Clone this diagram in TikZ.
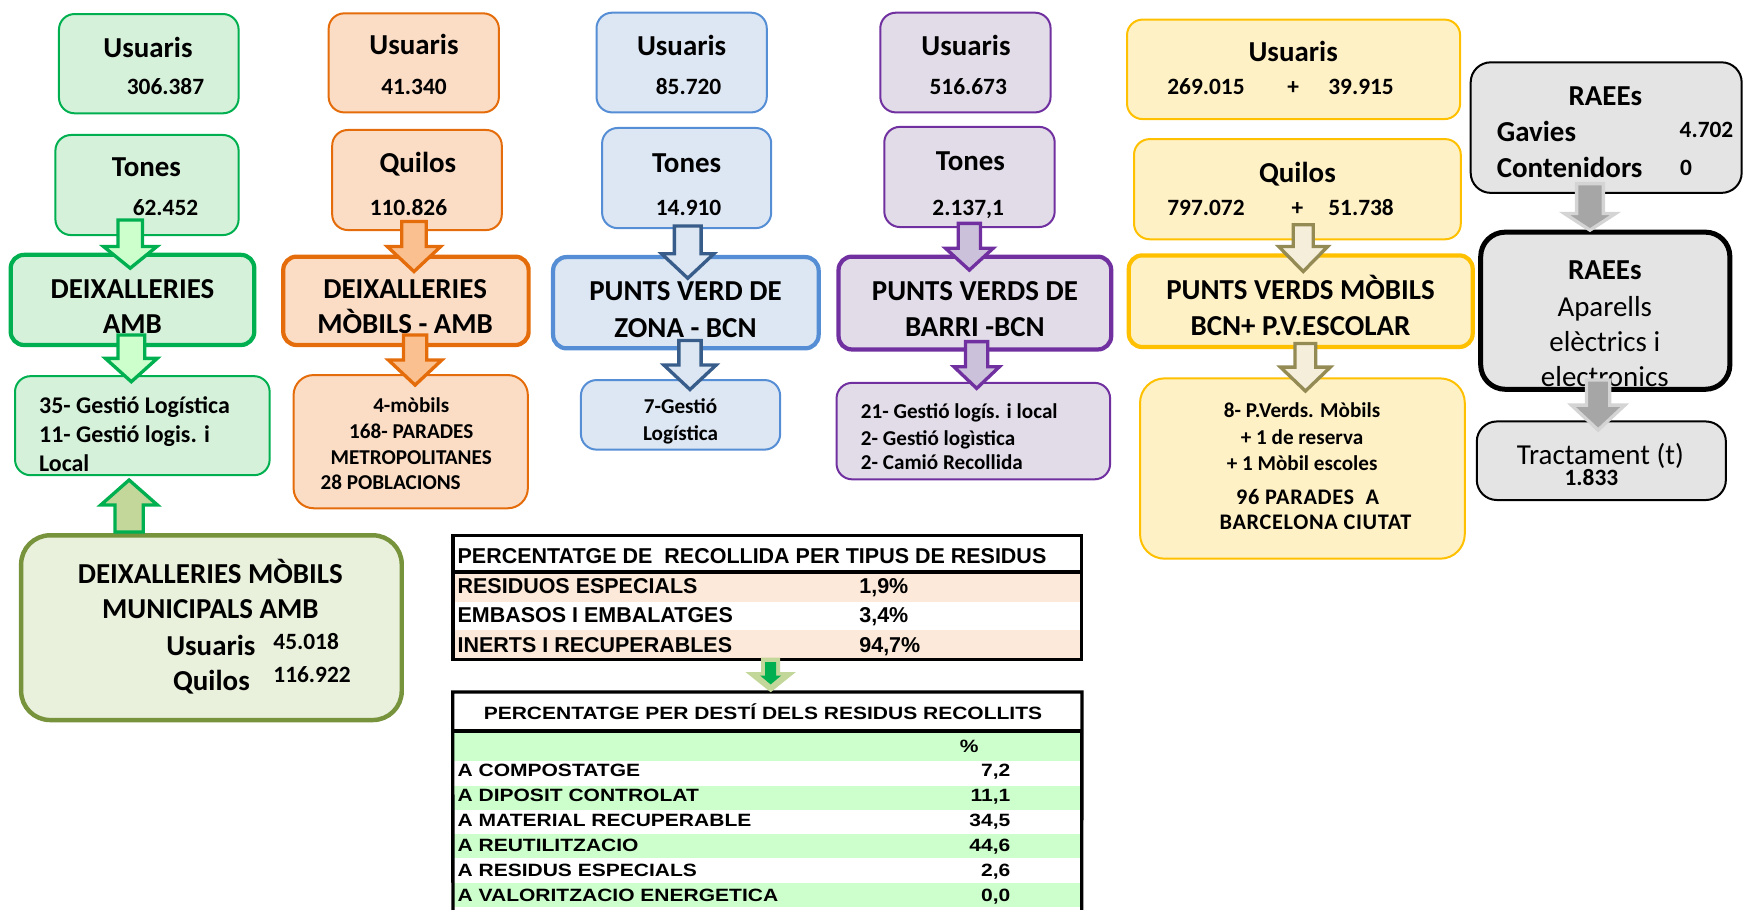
\documentclass[tikz,border=0pt]{standalone}
\usepackage{fontspec}
\setmainfont{Carlito}
\newfontfamily\tabfont{Liberation Sans}
\newfontfamily\tabwide[FakeStretch=1.18]{Liberation Sans}
\usetikzlibrary{calc,fit}
\definecolor{cG}{HTML}{00B050}\definecolor{fG}{HTML}{D6F1DA}\definecolor{aG}{HTML}{CCFFCC}
\definecolor{cO}{HTML}{E46C0A}\definecolor{fO}{HTML}{FBDDC6}\definecolor{aO}{HTML}{FAC090}
\definecolor{cB}{HTML}{558ED5}\definecolor{fB}{HTML}{DDE7F3}\definecolor{dB}{HTML}{385D8A}
\definecolor{cP}{HTML}{7030A0}\definecolor{fP}{HTML}{E2DCE9}\definecolor{aP}{HTML}{CCC1DA}
\definecolor{cY}{HTML}{FFC000}\definecolor{fY}{HTML}{FFF1C6}\definecolor{aY}{HTML}{F4EEDA}\definecolor{dY}{HTML}{948A54}
\definecolor{cL}{HTML}{77933C}\definecolor{fL}{HTML}{E9F0DC}\definecolor{aL}{HTML}{C4D79B}
\definecolor{fK}{HTML}{E4E4E4}\definecolor{aK}{HTML}{A6A6A6}\definecolor{eK}{HTML}{D4D4D4}
\definecolor{peach}{HTML}{FDE9D9}\definecolor{tgreen}{HTML}{CCFFCC}
\newcommand\bx[6]{\node[#2, fit={(#3,#4) (#5,#6)}, inner sep=0pt] (#1) {};}
\newcommand\blk[6]{\draw[#1] let \p1=(#2), \p2=(#3) in
  (\x1-#4pt,\y1) -- (\x1+#4pt,\y1) -- (\x1+#4pt,\y2+#6pt) -- (\x1+#5pt,\y2+#6pt) -- (\x1,\y2)
  -- (\x1-#5pt,\y2+#6pt) -- (\x1-#4pt,\y2+#6pt) -- cycle;}
\newcommand\blkup[6]{\draw[#1] let \p1=(#2), \p2=(#3) in
  (\x1-#4pt,\y1) -- (\x1+#4pt,\y1) -- (\x1+#4pt,\y2-#6pt) -- (\x1+#5pt,\y2-#6pt) -- (\x1,\y2)
  -- (\x1-#5pt,\y2-#6pt) -- (\x1-#4pt,\y2-#6pt) -- cycle;}
\tikzset{
  bxs/.style={draw=#1, rectangle, rounded corners=14pt, line width=1.8pt},
  gbox/.style={bxs=cG, fill=fG}, gboxT/.style={gbox, line width=3.8pt, rounded corners=12pt},
  orbox/.style={bxs=cO, fill=fO}, orboxT/.style={orbox, line width=3.8pt, rounded corners=12pt},
  blbox/.style={bxs=cB, fill=fB}, blboxT/.style={blbox, line width=3.8pt, rounded corners=12pt},
  pubox/.style={bxs=cP, fill=fP}, puboxT/.style={pubox, line width=3.8pt, rounded corners=12pt},
  yebox/.style={bxs=cY, fill=fY}, yeboxT/.style={yebox, line width=3.8pt, rounded corners=12pt},
  grbox/.style={bxs=black, fill=fK, rounded corners=18pt}, grboxT/.style={grbox, line width=4.5pt, rounded corners=22pt},
  olbox/.style={bxs=cL, fill=fL, line width=4pt, rounded corners=26pt},
  arr/.style={line width=3pt, line join=miter},
  gA/.style={arr, fill=aG, draw=cG}, oA/.style={arr, fill=aO, draw=cO},
  bA/.style={arr, fill=fB, draw=dB}, pA/.style={arr, fill=aP, draw=cP},
  yA/.style={arr, fill=aY, draw=dY}, uA/.style={arr, fill=aL, draw=cG},
  kA/.style={arr, fill=aK, draw=eK},
  lab/.style={anchor=base, inner sep=0pt, font=\fontsize{26}{30}\selectfont\bfseries},
  labr/.style={anchor=base, inner sep=0pt, font=\fontsize{26}{30}\selectfont},
  num/.style={anchor=base, inner sep=0pt, font=\fontsize{21}{25}\selectfont\bfseries},
  txt/.style={anchor=base, inner sep=0pt, font=\fontsize{19}{23}\selectfont\bfseries},
  txtL/.style={anchor=base west, inner sep=0pt, font=\fontsize{21.5}{25}\selectfont\bfseries},
  hvy/.style={anchor=base, inner sep=0pt, font=\fontsize{20}{24}\selectfont\bfseries\addfontfeature{LetterSpace=3}},
  tA/.style={anchor=base west, inner sep=0pt, font=\tabfont\fontsize{19.3}{23}\selectfont\bfseries},
  tB/.style={anchor=base west, inner sep=0pt, font=\tabwide\fontsize{16}{20}\selectfont\bfseries},
}
\begin{document}
\begin{tikzpicture}[x=1pt,y=-1pt]
\useasboundingbox (0,0) rectangle (1568,817);
% ---------- boxes ----------
\bx{uG}{gbox}{53}{12.6}{214.4}{101.8}
\bx{tG}{gbox}{49.8}{121.3}{214.4}{211.2}
\bx{dG}{gboxT}{9.6}{229}{228.5}{310}
\bx{lG}{gbox}{13.5}{338}{242.3}{427}
\bx{mG}{olbox}{19}{481}{361}{647}
\bx{uO}{orbox}{295.3}{12}{448.3}{101}
\bx{qO}{orbox}{298.5}{116.8}{450.9}{206.7}
\bx{dO}{orboxT}{254.5}{230.6}{475}{310}
\bx{lO}{orbox, rounded corners=18pt}{263.8}{337}{474.3}{456.7}
\bx{uB}{blbox}{536}{11.4}{689}{101}
\bx{tB}{blbox}{541}{115}{693}{205}
\bx{dB}{blboxT}{497}{231}{735.6}{313}
\bx{lB}{blbox}{522}{341.5}{701}{404}
\bx{uP}{pubox}{791}{11.4}{944}{101}
\bx{tP}{pubox}{794.6}{114}{947.7}{204}
\bx{dP}{puboxT}{753.5}{230.6}{998.5}{314}
\bx{lP}{pubox}{751.7}{344}{997.5}{430.7}
\bx{uY}{yebox}{1012.7}{17.6}{1312}{107}
\bx{qY}{yebox}{1019}{125}{1312.6}{215}
\bx{dY}{yeboxT}{1014.3}{229.5}{1323.3}{311.8}
\bx{lY}{yebox, rounded corners=22pt}{1024.4}{340}{1316.2}{502}
\bx{rK1}{grbox}{1321.5}{56}{1565}{173.3}
\bx{rK2}{grboxT}{1330.5}{208.6}{1554.4}{349.8}
\bx{rK3}{grbox}{1327}{378.7}{1550.8}{449.3}
% ---------- texts: green ----------
\node[lab] (g1) at (133,51.4) {Usuaris};
\node[num] (g2) at (148.7,85.3) {306.387};
\node[lab] (g3) at (131.6,158.7) {Tones};
\node[num] (g4) at (148.7,193.7) {62.452};
\node[lab] (g5) at (119,268) {DEIXALLERIES};
\node[lab] (g6) at (119,300) {AMB};
\node[txtL] (g7) at (35,371.5) {35- Gestió Logística};
\node[txtL] (g8) at (35,397.5) {11- Gestió logis. i};
\node[txtL] (g9) at (35,423.5) {Local};
\node[lab] (m1) at (189,524) {DEIXALLERIES MÒBILS};
\node[lab] (m2) at (189,556) {MUNICIPALS AMB};
\node[lab] (m3) at (189.5,589) {Usuaris};
\node[num, anchor=base west] (m4) at (245.5,583.5) {45.018};
\node[lab] (m5) at (190,620.5) {Quilos};
\node[num, anchor=base west] (m6) at (245.5,613.5) {116.922};
% ---------- orange ----------
\node[lab] (o1) at (372,49.4) {Usuaris};
\node[num] (o2) at (372,85) {41.340};
\node[lab] (o3) at (375.5,155) {Quilos};
\node[num] (o4) at (367,193.5) {110.826};
\node[lab] (o5) at (364,268) {DEIXALLERIES};
\node[lab] (o6) at (364,300) {MÒBILS - AMB};
\node[txt] (o7) at (369.5,371) {4-mòbils};
\node[txt] (o8) at (369.5,394) {168- PARADES};
\node[txt] (o9) at (369.5,417) {METROPOLITANES};
\node[txt] (o10) at (351,440) {28 POBLACIONS};
% ---------- blue ----------
\node[lab] (b1) at (612.5,50) {Usuaris};
\node[num] (b2) at (618.7,85) {85.720};
\node[lab] (b3) at (617,155) {Tones};
\node[num] (b4) at (618.7,193.5) {14.910};
\node[lab] (b5) at (616,270) {PUNTS VERD DE};
\node[lab] (b6) at (616,303) {ZONA - BCN};
\node[txt] (b7) at (611.5,371.6) {7-Gestió};
\node[txt] (b8) at (611.5,395.5) {Logística};
% ---------- purple ----------
\node[lab] (p1) at (868,50) {Usuaris};
\node[num] (p2) at (870,85) {516.673};
\node[lab] (p3) at (872,153.3) {Tones};
\node[num] (p4) at (870,193.5) {2.137,1};
\node[lab] (p5) at (876,270) {PUNTS VERDS DE};
\node[lab] (p6) at (876,302) {BARRI -BCN};
\node[txt, anchor=base west] (p7) at (773.4,376) {21- Gestió logís. i local};
\node[txt, anchor=base west] (p8) at (773.4,400) {2- Gestió logìstica};
\node[txt, anchor=base west] (p9) at (773.4,422) {2- Camió Recollida};
% ---------- yellow ----------
\node[lab] (y1) at (1162,55.5) {Usuaris};
\node[num, anchor=base west] (y2) at (1048.7,85) {269.015};
\node[num] (y3) at (1162,85) {+};
\node[num, anchor=base west] (y4) at (1193.4,85) {39.915};
\node[lab] (y5) at (1165.8,164) {Quilos};
\node[num, anchor=base west] (y6) at (1048.7,194) {797.072};
\node[num] (y7) at (1165.8,194) {+};
\node[num, anchor=base west] (y8) at (1193.4,194) {51.738};
\node[lab] (y9) at (1168.6,269.5) {PUNTS VERDS MÒBILS};
\node[lab] (y10) at (1168.6,301.6) {BCN+ P.V.ESCOLAR};
\node[txt] (y11) at (1170,375) {8- P.Verds. Mòbils};
\node[txt] (y12) at (1170,399) {+ 1 de reserva};
\node[txt] (y13) at (1170,422.6) {+ 1 Mòbil escoles};
\node[hvy] (y14) at (1175,453) {96 PARADES\ \ A};
\node[hvy] (y15) at (1182,475.5) {BARCELONA CIUTAT};
% ---------- gray ----------
\node[lab] (k1) at (1442.5,94.6) {RAEEs};
\node[lab, anchor=base west] (k2) at (1344.8,127.4) {Gavies};
\node[num] (k3) at (1533.4,123.7) {4.702};
\node[lab, anchor=base west] (k4) at (1344.8,159.5) {Contenidors};
\node[num] (k5) at (1515,158) {0};
\node[lab] (k6) at (1442,251) {RAEEs};
\node[labr] (k7) at (1442,284) {Aparells};
\node[labr] (k8) at (1442,316) {elèctrics i};
\node[labr] (k9) at (1442,347) {electronics};
\node[labr] (k10) at (1438,417.2) {Tractament (t)};
\node[num] (k11) at (1430,436.5) {1.833};
% ---------- table 1 ----------
\fill[peach] (407,514) rectangle (972,540.5);
\fill[peach] (407,566.5) rectangle (972,592.5);
\node[draw, line width=3pt, fit={(407,481) (972,592.5)}, inner sep=0pt] (tab1) {};
\draw[line width=3pt] (tab1.west |- 0,514) -- (tab1.east |- 0,514);
\node[tA] (t1h) at (411,506) {PERCENTATGE DE\ \ RECOLLIDA PER TIPUS DE RESIDUS};
\node[tA] (t1a) at (411,533) {RESIDUOS ESPECIALS};
\node[tA] (t1b) at (411,559.4) {EMBASOS I EMBALATGES};
\node[tA] (t1c) at (411,586.4) {INERTS I RECUPERABLES};
\node[tA] (t1av) at (772,533) {1,9\%};
\node[tA] (t1bv) at (772,559.4) {3,4\%};
\node[tA] (t1cv) at (772,586.4) {94,7\%};
% ---------- table 2 ----------
\fill[tgreen] (407,656.5) rectangle (972,684);
\fill[tgreen] (407,706) rectangle (972,728);
\fill[tgreen] (407,749.5) rectangle (972,771);
\fill[tgreen] (407,793) rectangle (972,815);
\coordinate (t2bl) at (407,820);
\coordinate (t2br) at (972,820);
\node[fit={(407,622) (972,656.5)}, inner sep=0pt] (tab2) {};
\draw[line width=3pt] (t2bl) -- (tab2.north west) -- (tab2.north east) -- (t2br);
\draw[line width=3pt] (tab2.south west) -- (tab2.south east);
\node[tB, anchor=base] (t2h) at (685.6,646.7) {PERCENTATGE PER DESTÍ DELS RESIDUS RECOLLITS};
\node[tB, anchor=base] (t2p) at (871,676) {\%};
\node[tB] (r1) at (411,697.7) {A COMPOSTATGE};
\node[tB] (r2) at (411,720) {A DIPOSIT CONTROLAT};
\node[tB] (r3) at (411,742.5) {A MATERIAL RECUPERABLE};
\node[tB] (r4) at (411,765) {A REUTILITZACIO};
\node[tB] (r5) at (411,787.4) {A RESIDUS ESPECIALS};
\node[tB] (r6) at (411,810) {A VALORITZACIO ENERGETICA};
\node[tB, anchor=base east] (v1) at (908,697.7) {7,2};
\node[tB, anchor=base east] (v2) at (908,720) {11,1};
\node[tB, anchor=base east] (v3) at (908,742.5) {34,5};
\node[tB, anchor=base east] (v4) at (908,765) {44,6};
\node[tB, anchor=base east] (v5) at (908,787.4) {2,6};
\node[tB, anchor=base east] (v6) at (908,810) {0,0};
% ---------- arrow end points ----------
\coordinate (ga1s) at (117,197.7);   \coordinate (ga1e) at (117,241);
\coordinate (ga2s) at (118,301);     \coordinate (ga2e) at (118,343);
\coordinate (gus) at (116,478);      \coordinate (gue) at (116,431.3);
\coordinate (oa1s) at (372,199);     \coordinate (oa1e) at (372,244);
\coordinate (oa2s) at (373,301);     \coordinate (oa2e) at (373,346);
\coordinate (ba1s) at (618,203);     \coordinate (ba1e) at (618,250);
\coordinate (ba2s) at (620,306);     \coordinate (ba2e) at (620,350);
\coordinate (pa1s) at (871,200.7);   \coordinate (pa1e) at (871,242.7);
\coordinate (pa2s) at (877.6,307);   \coordinate (pa2e) at (877.6,349);
\coordinate (ya1s) at (1171,202);    \coordinate (ya1e) at (1171,244);
\coordinate (ya2s) at (1173,308.7);  \coordinate (ya2e) at (1173,351.4);
\coordinate (ka1s) at (1428.7,165);  \coordinate (ka1e) at (1428.7,206.8);
\coordinate (ka2s) at (1436,341.5);  \coordinate (ka2e) at (1436,386.4);
\coordinate (tas) at (692.5,591);    \coordinate (tae) at (692.5,622);
\coordinate (tis) at (692.5,595);    \coordinate (tie) at (692.5,615);
% ---------- block arrows ----------
\blk{gA}{ga1s}{ga1e}{11}{24}{19.5}
\blk{gA}{ga2s}{ga2e}{12}{23.3}{21}
\blkup{uA}{gus}{gue}{12.7}{25.5}{22.5}
\blk{oA}{oa1s}{oa1e}{11}{24}{22.5}
\blk{oA}{oa2s}{oa2e}{10.5}{24}{22.5}
\blk{bA}{ba1s}{ba1e}{12}{23.5}{22}
\blk{bA}{ba2s}{ba2e}{10}{23.5}{22}
\blk{pA}{pa1s}{pa1e}{10}{21.5}{19.7}
\blk{pA}{pa2s}{pa2e}{10}{20.5}{19.5}
\blk{yA}{ya1s}{ya1e}{9}{22}{22.5}
\blk{yA}{ya2s}{ya2e}{9.3}{22.4}{21.5}
\blk{kA}{ka1s}{ka1e}{12}{23}{15}
\blk{kA}{ka2s}{ka2e}{10.5}{24}{22.4}
\blk{fill=aL, draw=none}{tas}{tae}{8.5}{22.5}{18}
\blk{fill=cG, draw=none}{tis}{tie}{5}{9.5}{8}
\end{tikzpicture}
\end{document}
